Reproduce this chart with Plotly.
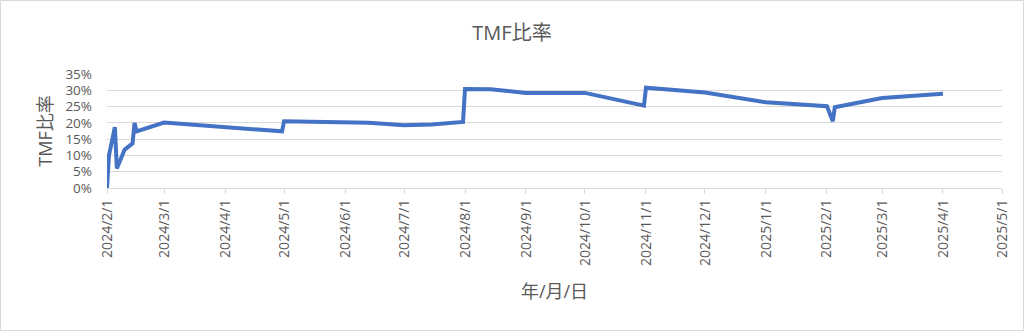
import plotly.graph_objects as go

dates = ["2024-02-01", "2024-02-02", "2024-02-05", "2024-02-06", "2024-02-10",
         "2024-02-14", "2024-02-15", "2024-02-16", "2024-03-01", "2024-04-30",
         "2024-05-01", "2024-06-01", "2024-06-13", "2024-07-01", "2024-07-15",
         "2024-07-31", "2024-08-01", "2024-08-14", "2024-09-01", "2024-10-01",
         "2024-10-31", "2024-11-01", "2024-12-01", "2025-01-01", "2025-02-01",
         "2025-02-04", "2025-02-05", "2025-03-01", "2025-04-01"]
tmf_ratio = [0.0, 0.100, 0.187, 0.060, 0.118,
             0.137, 0.200, 0.174, 0.201, 0.174,
             0.205, 0.200, 0.200, 0.193, 0.195,
             0.203, 0.304, 0.303, 0.292, 0.292,
             0.253, 0.308, 0.293, 0.263, 0.251,
             0.205, 0.248, 0.276, 0.289]

tick_dates = ["2024-02-01", "2024-03-01", "2024-04-01", "2024-05-01", "2024-06-01",
              "2024-07-01", "2024-08-01", "2024-09-01", "2024-10-01", "2024-11-01",
              "2024-12-01", "2025-01-01", "2025-02-01", "2025-03-01", "2025-04-01",
              "2025-05-01"]
tick_labels = ["2024/2/1", "2024/3/1", "2024/4/1", "2024/5/1", "2024/6/1",
               "2024/7/1", "2024/8/1", "2024/9/1", "2024/10/1", "2024/11/1",
               "2024/12/1", "2025/1/1", "2025/2/1", "2025/3/1", "2025/4/1",
               "2025/5/1"]

W, H = 1024, 331
ml, mr, mt, mb = 107, 22, 74, 143
pw, ph = W - ml - mr, H - mt - mb

FONT = "'Open Sans', 'Noto Sans CJK JP', sans-serif"
GRAY = "#595959"
GRID = "#d9d9d9"

fig = go.Figure()
fig.add_trace(go.Scatter(
    x=dates, y=tmf_ratio, mode="lines",
    line=dict(color="#4472C4", width=4),
    hoverinfo="skip", showlegend=False,
))

fig.update_layout(
    width=W, height=H,
    margin=dict(l=ml, r=mr, t=mt, b=mb),
    paper_bgcolor="white", plot_bgcolor="white",
    font=dict(family=FONT, color=GRAY, size=13),
    title=dict(text="TMF比率", x=0.5, xref="container", xanchor="center",
               y=1 - 33 / H, yref="container", yanchor="middle",
               font=dict(size=20, color=GRAY)),
    xaxis=dict(
        type="date", range=["2024-02-01", "2025-05-01"],
        tickmode="array", tickvals=tick_dates, ticktext=tick_labels,
        tickangle=-90, showgrid=False, showline=True, linecolor=GRID, linewidth=1,
        ticks="outside", ticklen=5, tickcolor=GRID,
        tickfont=dict(size=14, color=GRAY),
        title=dict(text="年/月/日", font=dict(size=18, color=GRAY), standoff=20),
        zeroline=False,
    ),
    yaxis=dict(
        range=[0, 0.35], dtick=0.05, tick0=0, tickformat=".0%",
        showgrid=True, gridcolor=GRID, gridwidth=1,
        showline=False, zeroline=False, ticks="",
        ticklabelstandoff=14,
        tickfont=dict(size=13.5, color=GRAY),
        title=dict(text="TMF比率", font=dict(size=18, color=GRAY), standoff=8),
    ),
    shapes=[dict(
        type="rect", xref="paper", yref="paper",
        x0=(0.5 - ml) / pw, x1=(W - 0.5 - ml) / pw,
        y0=-(H - 0.5 - mt - ph) / ph, y1=(ph + mt - 0.5) / ph,
        line=dict(color=GRID, width=1), fillcolor="rgba(0,0,0,0)", layer="below",
    )],
)

fig.write_html("out.html")
